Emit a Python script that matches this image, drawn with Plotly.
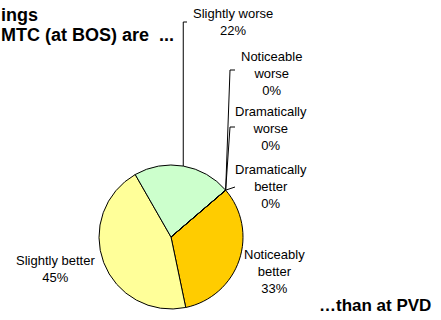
import math
import plotly.graph_objects as go

W, H = 441, 320

# ---- data ----
categories = ["Dramatically better", "Noticeably better", "Slightly better",
              "Slightly worse", "Noticeable worse", "Dramatically worse"]
values = [0, 33, 45, 22, 0, 0]
label_text = ["Dramatically<br>better<br>0%", "Noticeably<br>better<br>33%",
              "Slightly better<br>45%", "Slightly worse<br>22%",
              "Noticeable<br>worse<br>0%", "Dramatically<br>worse<br>0%"]
colors = ["#99CCFF", "#FFCC00", "#FFFF99", "#CCFFCC", "#FF99CC", "#CC99FF"]
title_lines = ["ings", "MTC (at BOS) are  ..."]
footer = "\u2026than at PVD"

# ---- layout geometry (pixels) ----
cx, cy, r = 171, 237, 72
rotation = 49.4

def px(x):
    return x / W

def py(y):
    return 1 - y / H

fig = go.Figure(go.Pie(
    labels=categories, values=values, sort=False, direction="clockwise",
    rotation=rotation, textinfo="none", hoverinfo="label+percent",
    marker=dict(colors=colors, line=dict(color="black", width=1)),
    domain=dict(x=[px(cx - r), px(cx + r)], y=[py(cy + r), py(cy - r)]),
    showlegend=False, automargin=False,
))

# slice edge anchors computed from the data
total = sum(values)
cum = 0
anchors = []
for v in values:
    a0 = rotation + 360 * cum / total
    a1 = rotation + 360 * (cum + v) / total
    am = math.radians((a0 + a1) / 2)
    anchors.append((cx + r * math.sin(am), cy - r * math.cos(am)))
    cum += v

# label positions (pixel centers) and leader-line elbows
label_pos = {
    "Dramatically better": (271, 186),
    "Noticeably better": (274, 271),
    "Slightly better": (55, 269),
    "Slightly worse": (233, 22),
    "Noticeable worse": (271, 73),
    "Dramatically worse": (271, 128),
}
elbows = {
    "Slightly worse": [(None, 22), (187, 22)],
    "Noticeable worse": [(230, 70), (235, 70)],
    "Dramatically worse": [(230, 127), (235, 127)],
    "Dramatically better": [(235, 187)],
}

font_reg = dict(family="Liberation Sans, Arial, sans-serif", size=13, color="black")
font_bold = dict(family="Liberation Sans, Arial, sans-serif", size=17, color="black")
font_title = dict(family="Liberation Sans, Arial, sans-serif", size=18, color="black")

annotations = []
shapes = []
for cat, txt in zip(categories, label_text):
    x, y = label_pos[cat]
    annotations.append(dict(x=px(x), y=py(y), xref="paper", yref="paper",
                            text=txt, showarrow=False, font=font_reg,
                            xanchor="center", yanchor="middle", align="center"))
    if cat in elbows:
        ax, ay = anchors[categories.index(cat)]
        pts = [(ax, ay)]
        for ex, ey in elbows[cat]:
            pts.append((ax if ex is None else ex, ey))
        path = "M " + " L ".join(f"{px(a)} {py(b)}" for a, b in pts)
        shapes.append(dict(type="path", path=path, xref="paper", yref="paper",
                           line=dict(color="black", width=1)))

# title lines (left part is cut off in the source image)
title_y = [15, 35]
for t, yc in zip(title_lines, title_y):
    annotations.append(dict(x=0, y=py(yc), xref="paper", yref="paper",
                            text=f"<b>{t}</b>", showarrow=False, font=font_title,
                            xanchor="left", yanchor="middle", borderpad=0))
annotations.append(dict(x=px(433), y=py(305), xref="paper", yref="paper",
                        text=f"<b>{footer}</b>", showarrow=False, font=font_bold,
                        xanchor="right", yanchor="middle"))

fig.update_layout(width=W, height=H, margin=dict(l=0, r=0, t=0, b=0),
                  paper_bgcolor="white", plot_bgcolor="white",
                  annotations=annotations, shapes=shapes)
fig.write_html("out.html")
